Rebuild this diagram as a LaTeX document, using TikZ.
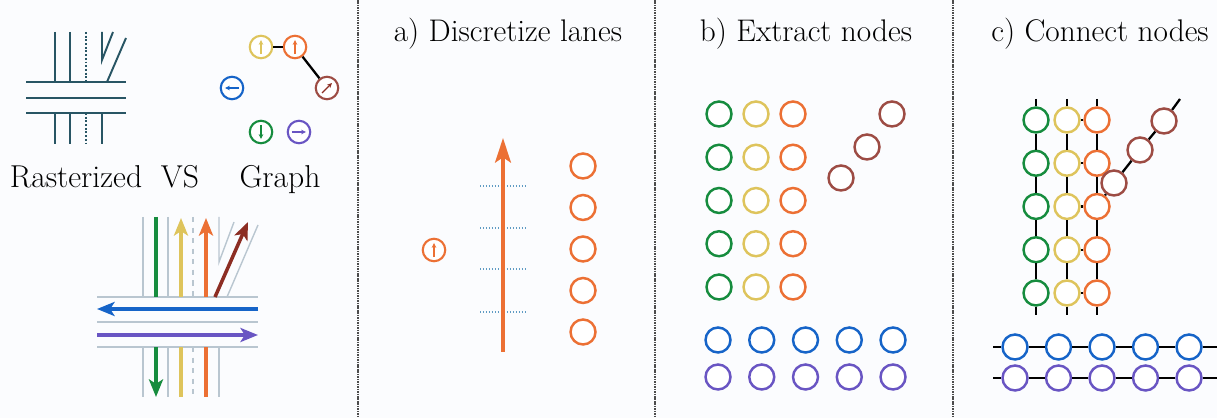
\documentclass[tikz,border=0pt]{standalone}
\usepackage{tikz}
\usetikzlibrary{arrows.meta,positioning}
\definecolor{bgwhite}{RGB}{251,252,254}
\definecolor{lanegreen}{RGB}{22,140,62}
\definecolor{laneyellow}{RGB}{222,196,92}
\definecolor{laneorange}{RGB}{236,112,52}
\definecolor{lanebrown}{RGB}{140,45,35}
\definecolor{laneblue}{RGB}{22,100,200}
\definecolor{lanepurple}{RGB}{105,85,195}
\definecolor{rastline}{RGB}{40,85,100}
\definecolor{lanegray}{RGB}{185,198,208}
\definecolor{tickblue}{RGB}{95,155,195}
\tikzstyle{waypt} = [circle, draw, line width=1.4pt, fill=white,
    minimum size=0.5cm, inner sep=0pt]
\tikzstyle{icon} = [waypt, minimum size=0.45cm, line width=1.2pt]
\tikzstyle{title} = [anchor=base, font=\fontsize{17.8}{21}\selectfont]
\tikzstyle{caption} = [anchor=base, font=\fontsize{18}{21}\selectfont]
\tikzstyle{lanearrow} = [line width=2pt, -{Stealth[length=10pt,width=8pt,inset=2.5pt]}]
\tikzstyle{iconarrow} = [line width=0.8pt, -{Stealth[length=2.8pt,width=2.6pt]},
    shorten >=3pt, shorten <=3pt]
\tikzstyle{link} = [draw=black, line width=1.3pt]
\tikzstyle{sep} = [gray!60!black, line width=0.9pt, dash pattern=on 0.9pt off 0.5pt]

\begin{document}
\begin{tikzpicture}[x=0.02cm, y=-0.02cm]
    \fill[bgwhite] (0,0) rectangle (1217,418);
    \useasboundingbox (0,0) rectangle (1217,418);

    % panel separators
    \draw[sep] (358,0) -- (358,418);
    \draw[sep] (655,0) -- (655,418);
    \draw[sep] (953,0) -- (953,418);

    % rasterized map
    \begin{scope}[rastline, line width=1.1pt]
      \draw (26,82) -- (126,82);
      \draw (26,98) -- (126,98);
      \draw (26,113) -- (126,113);
      \draw (55,32) -- (55,82);  \draw (70,32) -- (70,82);
      \draw[densely dotted] (86,32) -- (86,82);
      \draw (102,32) -- (102,60) -- (113,32);
      \draw (107,82) -- (126,38);
      \draw (55,113) -- (55,144);  \draw (70,113) -- (70,144);
      \draw[densely dotted] (86,113) -- (86,144);
      \draw (102,113) -- (102,144);
    \end{scope}

    % graph icons
    \node[icon, draw=laneyellow] (gY) at (261,47) {};
    \node[icon, draw=laneorange] (gO) at (295,47) {};
    \node[icon, draw=lanebrown!85] (gBr) at (327,88) {};
    \node[icon, draw=laneblue] (gBl) at (232,88) {};
    \node[icon, draw=lanegreen] (gG) at (261,132) {};
    \node[icon, draw=lanepurple] (gP) at (299,132) {};
    \draw[link] (gY) -- (gO);
    \draw[link] (gO) -- (gBr);
    \draw[iconarrow, laneyellow] (gY.south) -- (gY.north);
    \draw[iconarrow, laneorange] (gO.south) -- (gO.north);
    \draw[iconarrow, lanebrown] (gBr.south west) -- (gBr.north east);
    \draw[iconarrow, laneblue] (gBl.east) -- (gBl.west);
    \draw[iconarrow, lanegreen] (gG.north) -- (gG.south);
    \draw[iconarrow, lanepurple] (gP.west) -- (gP.east);

    \node[caption] (rast) at (76,188) {Rasterized};
    \node[caption] (vs) at (180,188) {VS};
    \node[caption] (graph) at (280,188) {Graph};

    % lanes of the crossing
    \begin{scope}[lanegray, line width=0.8pt]
      \draw (97,297) -- (258,297);
      \draw (97,322) -- (258,322);
      \draw (97,347) -- (258,347);
      \draw (143,217) -- (143,297);  \draw (168,217) -- (168,297);
      \draw[dashed] (193,217) -- (193,297);
      \draw (219,217) -- (219,262) -- (234,222);
      \draw (227,297) -- (258,225);
      \draw (143,347) -- (143,397);  \draw (168,347) -- (168,397);
      \draw[dashed] (193,347) -- (193,397);
      \draw (219,347) -- (219,397);
    \end{scope}
    \draw[lanegreen, line width=2pt] (156,217) -- (156,297);
    \draw[lanearrow, lanegreen] (156,347) -- (156,397);
    \draw[laneyellow, line width=2pt] (181,397) -- (181,347);
    \draw[lanearrow, laneyellow] (181,297) -- (181,218);
    \draw[laneorange, line width=2pt] (206,397) -- (206,347);
    \draw[lanearrow, laneorange] (206,297) -- (206,218);
    \draw[lanearrow, lanebrown] (215,297) -- (248,222);
    \draw[lanearrow, laneblue] (258,309) -- (97,309);
    \draw[lanearrow, lanepurple] (97,335) -- (258,335);

    % a) Discretize lanes
    \node[title] (ttlA) at (508,42) {a) Discretize lanes};
    \node[icon, draw=laneorange] (aIc) at (434,250) {};
    \draw[iconarrow, laneorange] (aIc.south) -- (aIc.north);
    \coordinate (laneBot) at (503,352);
    \coordinate (laneTop) at (503,138);
    \foreach \y in {186,228,269,312}
      \draw[tickblue, densely dotted, line width=0.7pt] (480,\y) -- (527,\y);
    \draw[laneorange, line width=2pt, -{Stealth[length=14pt,width=9pt,inset=3pt]}]
      (laneBot) -- (laneTop);
    \foreach \i in {1,...,5}
      \node[waypt, draw=laneorange] (a\i) at (583,{166+41.5*(\i-1)}) {};

    % b) Extract nodes
    \node[title] (ttlB) at (806,42) {b) Extract nodes};
    \foreach \i in {1,...,5} {
      \node[waypt, draw=lanegreen] (bG\i) at (719,{114+43.25*(\i-1)}) {};
      \node[waypt, draw=laneyellow] (bY\i) at (756,{114+43.25*(\i-1)}) {};
      \node[waypt, draw=laneorange] (bO\i) at (793,{114+43.25*(\i-1)}) {};
      \node[waypt, draw=laneblue] (bBl\i) at ({718+43.75*(\i-1)},340) {};
      \node[waypt, draw=lanepurple] (bP\i) at ({718+43.75*(\i-1)},377) {};
    }
    \node[waypt, draw=lanebrown!85] (bBr1) at (841,178) {};
    \node[waypt, draw=lanebrown!85] (bBr2) at (867,147) {};
    \node[waypt, draw=lanebrown!85] (bBr3) at (892,114) {};

    % c) Connect nodes
    \node[title] (ttlC) at (1100,42) {c) Connect nodes};
    \foreach \i in {1,...,5} {
      \node[waypt, draw=lanegreen] (cG\i) at (1036,{120+43.25*(\i-1)}) {};
      \node[waypt, draw=laneyellow] (cY\i) at (1067,{120+43.25*(\i-1)}) {};
      \node[waypt, draw=laneorange] (cO\i) at (1097,{120+43.25*(\i-1)}) {};
      \node[waypt, draw=laneblue] (cBl\i) at ({1015+43.5*(\i-1)},347) {};
      \node[waypt, draw=lanepurple] (cP\i) at ({1015+43.5*(\i-1)},378) {};
      \draw[link] (cY\i) -- (cO\i);
    }
    \node[waypt, draw=lanebrown!85] (cBr1) at (1114,183) {};
    \node[waypt, draw=lanebrown!85] (cBr2) at (1140,150) {};
    \node[waypt, draw=lanebrown!85] (cBr3) at (1164,121) {};
    \foreach \c/\x in {G/1036,Y/1067,O/1097} {
      \coordinate (top\c) at (\x,99);
      \coordinate (bot\c) at (\x,315);
      \draw[link] (top\c) -- (c\c1) -- (c\c2) -- (c\c3) -- (c\c4) -- (c\c5) -- (bot\c);
    }
    \foreach \c/\y in {Bl/347,P/378} {
      \coordinate (left\c) at (993,\y);
      \coordinate (right\c) at (1217,\y);
      \draw[link] (left\c) -- (c\c1) -- (c\c2) -- (c\c3) -- (c\c4) -- (c\c5) -- (right\c);
    }
    \coordinate (brEnd) at (1180,99);
    \draw[link] (cO3) -- (cBr1) -- (cBr2) -- (cBr3) -- (brEnd);
\end{tikzpicture}
\end{document}
